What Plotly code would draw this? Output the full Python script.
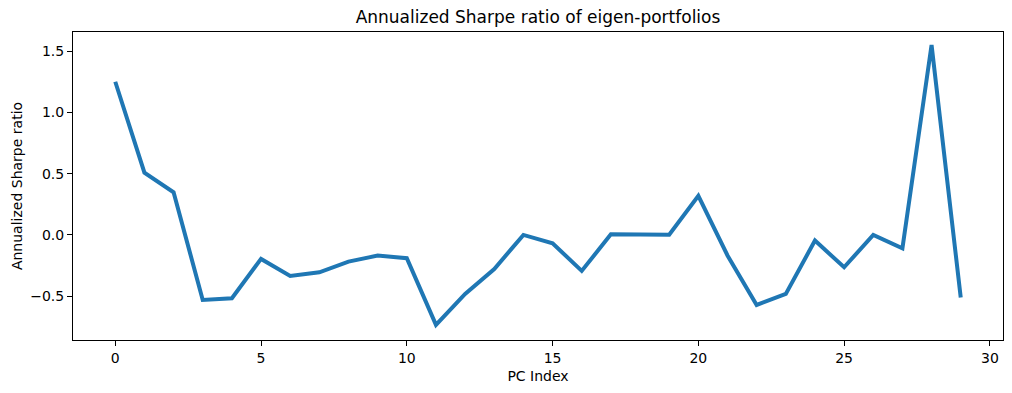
import plotly.graph_objects as go

pc_index = list(range(30))
sharpe = [1.252, 0.509, 0.349, -0.531, -0.517, -0.196, -0.335, -0.305, -0.218, -0.169,
          -0.190, -0.735, -0.482, -0.278, 0.000, -0.068, -0.294, 0.005, 0.003, 0.002,
          0.319, -0.168, -0.572, -0.482, -0.046, -0.264, 0.000, -0.109, 1.552, -0.512]

fig = go.Figure()
fig.add_trace(go.Scatter(x=pc_index, y=sharpe, mode="lines",
                         line=dict(color="#1f77b4", width=4), hoverinfo="x+y"))

font = "DejaVu Sans"
axis_common = dict(showgrid=False, zeroline=False, showline=True, mirror=True,
                   linecolor="black", linewidth=1, ticks="outside", ticklen=5,
                   tickwidth=1, tickcolor="black",
                   tickfont=dict(family=font, size=14, color="black"))

fig.update_layout(
    width=1012, height=393,
    margin=dict(l=73, r=9, t=32, b=53),
    paper_bgcolor="white", plot_bgcolor="white",
    showlegend=False,
    title=dict(text="Annualized Sharpe ratio of eigen-portfolios",
               x=0.5, xref="paper", xanchor="center",
               y=1 - 17 / 393, yref="container", yanchor="middle",
               font=dict(family=font, size=17, color="black")),
    xaxis=dict(range=[-1.45, 30.45], tickvals=[0, 5, 10, 15, 20, 25, 30],
               title=dict(text="PC Index", font=dict(family=font, size=14, color="black"),
                          standoff=6),
               **axis_common),
    yaxis=dict(range=[-0.8586, 1.6586], tickvals=[-0.5, 0.0, 0.5, 1.0, 1.5],
               tickformat=".1f",
               title=dict(text="Annualized Sharpe ratio", font=dict(family=font, size=14, color="black"),
                          standoff=4),
               **axis_common),
)

fig.write_html("out.html", config={"displayModeBar": False},
               post_script="document.body.style.margin='0';document.body.style.overflow='hidden';")
